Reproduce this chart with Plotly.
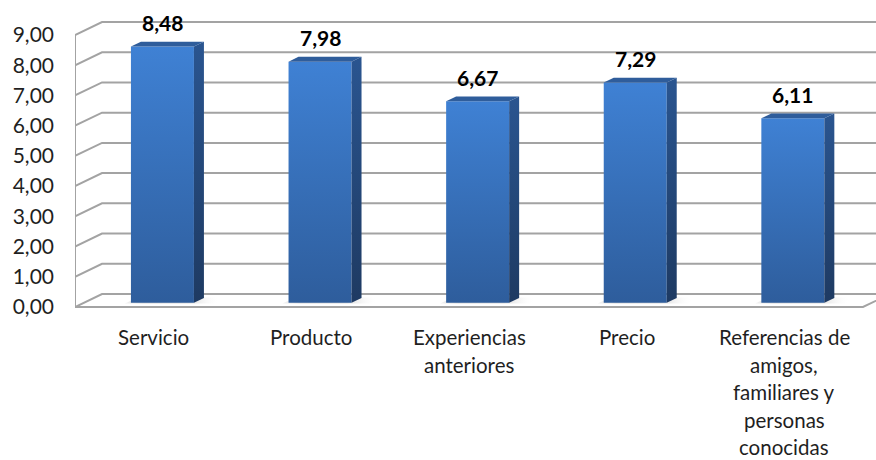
import plotly.graph_objects as go

# --- data ---------------------------------------------------------------
categorias = [
    "Servicio",
    "Producto",
    "Experiencias<br>anteriores",
    "Precio",
    "Referencias de<br>amigos,<br>familiares y<br>personas<br>conocidas",
]
valores = [8.48, 7.98, 6.67, 7.29, 6.11]
marcas_y = [0, 1, 2, 3, 4, 5, 6, 7, 8, 9]
etiquetas_y = ["0,00", "1,00", "2,00", "3,00", "4,00",
               "5,00", "6,00", "7,00", "8,00", "9,00"]

# --- canvas / pseudo-3D geometry ------------------------------------------
W, H = 876, 460
M_LEFT = 75
PX_X = 157.6          # pixels per category
PX_Y = 30.22          # pixels per value unit
ZERO_PX = 307         # pixel row of value 0 on the front plane
DX = 27 / PX_X        # depth shift (x) from front to back wall
DY = 13 / PX_Y        # depth shift (y) from front to back wall
F1, F2 = 0.32, 0.69   # bar front / back depth
HW = 31.5 / PX_X      # bar half width

X0 = -0.5
X1 = X0 + (W - M_LEFT) / PX_X
Y0 = -(H - ZERO_PX) / PX_Y
Y1 = Y0 + H / PX_Y
N = len(categorias)
YMAX = marcas_y[-1]

FONT = "Lato"
TXT = "#1f1f1f"
GRID = "#a3a3a3"


def proj(x, y, d):
    """Project a point at depth d (0 = front, 1 = back wall)."""
    return x + d * DX, y + d * DY


def poly(points):
    xs = [p[0] for p in points] + [points[0][0]]
    ys = [p[1] for p in points] + [points[0][1]]
    return xs, ys


fig = go.Figure()

# --- walls, gridlines and floor -------------------------------------------
gx, gy = [], []
for v in marcas_y:
    a = proj(X0, v, 0)
    b = proj(X0, v, 1)
    c = proj(X0 + N + 1, v, 1)
    gx += [a[0], b[0], c[0], None]
    gy += [a[1], b[1], c[1], None]
# front-left edge of side wall
a, b = proj(X0, 0, 0), proj(X0, YMAX, 0)
gx += [a[0], b[0], None]
gy += [a[1], b[1], None]
# floor front edge and right edge
a, b, c = proj(X0, 0, 0), proj(X0 + N, 0, 0), proj(X0 + N, 0, 1)
gx += [a[0], b[0], c[0], None]
gy += [a[1], b[1], c[1], None]

fig.add_trace(go.Scatter(x=gx, y=gy, mode="lines",
                         line=dict(color=GRID, width=2),
                         hoverinfo="skip", showlegend=False))

# --- floor shadows -----------------------------------------------------------
for i, v in enumerate(valores):
    pts = [proj(i - HW - 0.03, 0, F1 - 0.05), proj(i + HW + 0.22, 0, F1 - 0.05),
           proj(i + HW + 0.22, 0, F2 + 0.05), proj(i - HW - 0.03, 0, F2 + 0.05)]
    xs, ys = poly(pts)
    fig.add_trace(go.Scatter(
        x=xs, y=ys, mode="lines", fill="toself", line=dict(width=0),
        fillgradient=dict(type="horizontal",
                          start=i - HW - 0.03, stop=i + HW + 0.22,
                          colorscale=[[0, "rgba(150,150,150,0.0)"],
                                      [0.25, "rgba(140,140,140,0.35)"],
                                      [0.7, "rgba(150,150,150,0.35)"],
                                      [1, "rgba(255,255,255,0)"]]),
        hoverinfo="skip", showlegend=False))

# --- bars ------------------------------------------------------------------
for i, v in enumerate(valores):
    # front face
    front = [proj(i - HW, 0, F1), proj(i + HW, 0, F1),
             proj(i + HW, v, F1), proj(i - HW, v, F1)]
    xs, ys = poly(front)
    fig.add_trace(go.Scatter(
        x=xs, y=ys, mode="lines", fill="toself", line=dict(width=0),
        fillgradient=dict(type="vertical", start=front[0][1], stop=front[2][1],
                          colorscale=[[0, "#2e5d9c"], [1, "#3f81d4"]]),
        hoverinfo="skip", showlegend=False))
    # side face
    side = [proj(i + HW, 0, F1), proj(i + HW, 0, F2),
            proj(i + HW, v, F2), proj(i + HW, v, F1)]
    xs, ys = poly(side)
    fig.add_trace(go.Scatter(
        x=xs, y=ys, mode="lines", fill="toself", line=dict(width=0),
        fillgradient=dict(type="vertical", start=side[0][1], stop=side[2][1],
                          colorscale=[[0, "#1e3a62"], [1, "#2a5590"]]),
        hoverinfo="skip", showlegend=False))
    # top face
    top = [proj(i - HW, v, F1), proj(i + HW, v, F1),
           proj(i + HW, v, F2), proj(i - HW, v, F2)]
    xs, ys = poly(top)
    fig.add_trace(go.Scatter(
        x=xs, y=ys, mode="lines", fill="toself", line=dict(width=0),
        fillcolor="#2f5d9b", hoverinfo="skip", showlegend=False))

# --- value labels ------------------------------------------------------------
for i, v in enumerate(valores):
    px, py = proj(i, v, F1)
    fig.add_annotation(x=px, y=py, xref="x", yref="y",
                       text="<b>" + f"{v:.2f}".replace(".", ",") + "</b>",
                       showarrow=False, yanchor="middle", yshift=24,
                       font=dict(family=FONT, size=21, color="#000000"))

# --- category labels (one annotation per line for Excel-like leading) -------
for i, cat in enumerate(categorias):
    for k, linea in enumerate(cat.split("<br>")):
        fig.add_annotation(x=i, y=0, xref="x", yref="y", text=linea,
                           showarrow=False, yanchor="middle",
                           yshift=-(30 + 27.5 * k),
                           font=dict(family=FONT, size=20.5, color=TXT))

fig.update_layout(
    width=W, height=H,
    margin=dict(l=M_LEFT, r=0, t=0, b=0),
    paper_bgcolor="white", plot_bgcolor="white",
    showlegend=False,
    xaxis=dict(range=[X0, X1], visible=False, fixedrange=True),
    yaxis=dict(range=[Y0, Y1], tickvals=marcas_y, ticktext=etiquetas_y,
               showgrid=False, zeroline=False, showline=False, ticks="",
               ticklabelstandoff=20,
               tickfont=dict(family=FONT, size=21, color=TXT),
               fixedrange=True),
)

fig.write_html("out.html")
